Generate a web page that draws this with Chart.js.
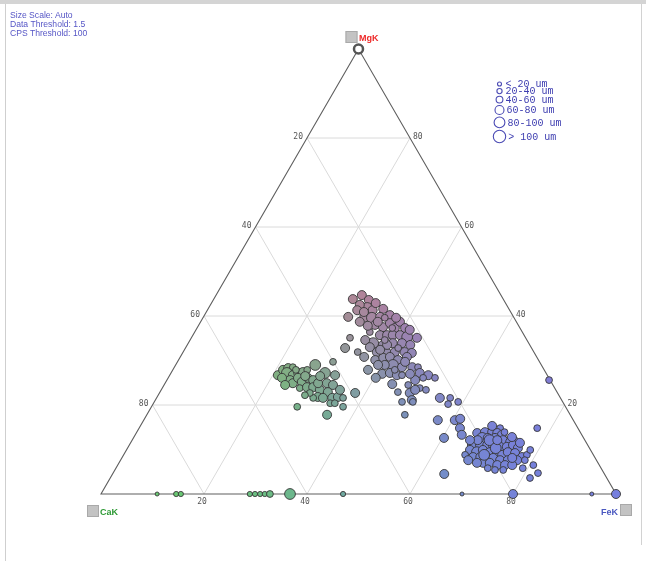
<!DOCTYPE html>
<html>
<head>
<meta charset="utf-8">
<script src="https://cdn.jsdelivr.net/npm/chart.js@4.4.1/dist/chart.umd.min.js"></script>
<style>
  html, body { margin: 0; padding: 0; background: #fff; }
  #wrap { position: relative; width: 646px; height: 561px; overflow: hidden; }
  #topbar { position: absolute; left: 0; top: 0; width: 646px; height: 4px; background: #d4d4d4; }
  #lline { position: absolute; left: 5px; top: 4px; width: 1px; height: 557px; background: #cfcfcf; }
  #rline { position: absolute; left: 641px; top: 4px; width: 1px; height: 541px; background: #d2d2d2; }
  #info { position: absolute; left: 10px; top: 11px; font: 8.6px "Liberation Sans", Arial, sans-serif;
          color: #5656c6; line-height: 9px; white-space: nowrap; }
  canvas { position: absolute; left: 0; top: 0; }
</style>
</head>
<body>
<div id="wrap">
  <canvas id="c" width="646" height="561"></canvas>
  <div id="topbar"></div><div id="lline"></div><div id="rline"></div>
  <div id="info">Size Scale: Auto<br>Data Threshold: 1.5<br>CPS Threshold: 100</div>
</div>
<script>
const SQ = Math.sqrt(3) / 2;

// Particle compositions in percent; CaK is the remainder (100 - MgK - FeK)
const mgK = [
  // Mg-rich group
  43.8,44.7,43.6,39.8,41.8,41.3,41.6,40.2,39.8,39.6,39.8,38.0,37.5,38.4,37.3,38.7,37.3,36.4,35.7,35.7,
  35.7,35.7,35.3,35.1,35.1,33.9,33.5,33.9,33.9,33.5,32.8,31.9,31.9,31.7,31.9,31.9,31.7,30.1,30.6,30.8,
  30.1,30.8,29.0,29.0,28.5,28.5,28.5,27.9,27.0,27.2,26.7,26.7,27.2,26.7,25.6,26.1,24.7,24.5,23.8,22.7,
  22.7,21.1,20.7,20.7,21.6,21.6,20.2,20.7,17.8,16.6,16.6,16.9,14.8,13.3,12.6,42.5,38.7,38.7,37.8,33.5,
  34.6,34.6,29.0,30.8,23.4,41.3,42.9,39.6,39.6,33.0,32.8,32.4,29.7,27.9,26.1,27.0,26.1,23.4,22.9,40.9,
  37.3,36.9,
  // Ca-rich group
  26.7,27.9,28.3,28.5,27.2,26.7,27.2,27.4,27.9,29.0,25.6,24.9,26.1,25.2,26.1,25.6,23.8,24.0,24.0,27.2,
  26.7,23.4,24.9,22.9,24.5,21.8,21.6,21.6,21.6,21.8,21.6,20.4,20.4,19.6,19.6,17.8,29.7,26.1,26.5,24.9,
  27.9,22.7,24.5,26.5,23.4,22.2,
  // Fe-rich group
  14.8,14.8,13.7,13.9,13.9,13.7,13.3,12.6,12.6,12.6,12.1,11.7,11.7,11.0,11.0,11.0,11.0,10.6,10.6,11.0,
  10.3,9.9,9.4,9.9,9.4,9.4,8.8,9.4,9.2,8.3,8.8,8.3,8.3,8.1,8.1,7.6,7.6,7.6,8.8,7.0,
  7.0,6.5,6.5,6.5,5.8,5.8,7.6,6.5,4.7,3.6,4.5,25.6,12.1,12.1,10.3,8.8,13.9,12.1,15.3,12.8,
  11.5,7.6,7.0,5.4,5.4,8.1,12.1,9.9,
  // Mg-free particles along the CaK-FeK side
  0,0,0,0,0,0,0,0,0,0,0,0,0,0
];
const feK = [
  27.0,28.3,30.2,28.1,30.8,32.1,34.0,36.0,31.4,32.8,34.3,34.2,36.0,36.9,38.4,38.7,40.4,34.0,36.3,37.7,
  38.8,40.2,41.8,43.8,30.8,35.9,38.0,39.7,41.5,43.3,31.0,33.9,37.6,39.7,41.1,43.0,44.5,38.2,39.5,40.7,
  42.6,44.0,42.2,40.6,44.2,46.2,47.3,37.9,41.1,42.5,44.1,45.1,48.3,50.2,48.2,49.5,44.2,47.4,50.0,38.0,
  48.6,49.8,48.1,50.2,55.0,57.0,57.3,59.0,50.1,57.1,60.4,61.3,62.3,63.4,60.3,29.0,34.4,30.9,32.9,38.8,
  34.0,37.8,39.3,35.7,51.4,29.1,31.9,35.3,37.5,35.7,41.3,38.0,44.2,43.1,40.3,46.5,51.8,49.3,46.2,30.6,
  37.9,41.5,
  21.0,21.4,22.2,23.0,22.5,23.9,24.7,25.5,26.1,27.1,23.9,24.8,25.2,26.4,27.1,28.4,26.7,28.0,29.2,29.9,
  32.1,30.8,31.4,32.6,32.8,31.2,30.4,32.3,34.1,35.1,36.2,34.3,35.2,28.3,37.2,35.0,30.2,22.1,26.4,29.7,
  23.9,29.2,23.5,29.3,34.7,28.5,
  70.1,77.3,66.2,67.6,69.0,70.1,71.2,67.7,68.8,70.2,72.0,73.6,74.6,66.7,68.1,69.5,70.6,72.2,73.5,74.5,
  75.8,66.7,68.3,69.2,70.8,72.2,73.5,74.3,75.8,77.6,66.3,68.1,69.5,71.0,72.1,73.7,75.2,77.0,78.3,70.7,
  72.0,73.7,75.2,76.6,72.2,79.0,78.5,80.7,82.5,81.5,64.4,74.2,69.4,67.1,71.5,70.0,71.4,65.6,68.3,73.4,
  75.6,67.5,69.5,73.8,75.4,75.8,70.9,78.4,
  10.9,14.6,15.5,28.9,29.9,30.9,31.8,32.8,36.7,47.0,70.1,80.0,95.3,100
];
// Particle size class: 1 <20um, 2 20-40um, 3 40-60um, 4 60-80um, 5 80-100um, 6 >100um
const sizeClass = [
  4,4,4,4,5,4,4,4,5,5,4,4,4,4,4,4,4,3,4,4,
  4,4,5,4,3,5,4,4,4,4,4,3,4,4,4,4,4,4,4,4,
  4,4,5,4,4,4,3,4,4,4,4,3,4,4,4,3,4,3,3,4,
  4,4,3,3,4,3,3,3,3,4,4,4,4,4,4,4,4,4,4,4,
  4,3,4,4,3,4,4,3,4,4,3,4,4,3,4,4,3,4,3,4,
  3,4,
  4,4,4,3,5,4,4,4,3,5,4,4,4,4,4,4,3,4,4,5,
  4,4,4,4,4,4,3,4,4,4,3,3,3,3,3,4,3,4,4,4,
  3,3,4,4,4,3,
  3,3,4,4,4,4,4,5,4,4,4,4,4,5,4,4,4,4,4,4,
  4,4,5,4,4,4,4,4,4,4,3,4,4,4,4,4,4,4,3,4,
  4,4,4,4,3,3,3,3,3,3,4,3,5,4,5,5,3,4,4,4,
  4,4,4,3,3,4,4,3,
  1,2,2,2,2,2,2,3,5,2,1,4,1,4
];
// Pure MgK particle at the apex
const apexMgK = [100];
const apexFeK = [0];

const sizeLabels = ['< 20 um', '20-40 um', '40-60 um', '60-80 um', '80-100 um', '> 100 um'];
const gridSteps = [20, 40, 60, 80];
const cornerNames = ['MgK', 'CaK', 'FeK'];

const sizeRadius = [2, 2.6, 3.4, 4.5, 5.4, 6.2];

// ternary -> cartesian (x along CaK-FeK base, y up towards MgK)
const toXY = (mg, fe) => ({ x: fe + mg / 2, y: mg * SQ });

const particles = mgK.map((m, i) => toXY(m, feK[i]));
const apexPts = apexMgK.map((m, i) => toXY(m, apexFeK[i]));

// colour blended from the three corner colours, weighted by squared fractions
const cMg = [225, 108, 142], cCa = [105, 202, 112], cFe = [118, 127, 222];
function compColour(mg, fe) {
  const ca = Math.max(0, 100 - mg - fe);
  const wm = mg * mg, wf = fe * fe, wc = ca * ca, s = wm + wf + wc;
  const ch = k => Math.round((wm * cMg[k] + wf * cFe[k] + wc * cCa[k]) / s);
  return `rgb(${ch(0)},${ch(1)},${ch(2)})`;
}

const ternaryFrame = {
  id: 'ternaryFrame',
  beforeDatasetsDraw(chart) {
    const { ctx, scales: { x, y } } = chart;
    const P = (mg, fe) => { const q = toXY(mg, fe); return [x.getPixelForValue(q.x), y.getPixelForValue(q.y)]; };
    const seg = (a, b) => { ctx.beginPath(); ctx.moveTo(a[0], a[1]); ctx.lineTo(b[0], b[1]); ctx.stroke(); };
    ctx.save();
    // grid
    ctx.strokeStyle = '#dadada';
    ctx.lineWidth = 1;
    gridSteps.forEach(k => {
      seg(P(k, 0), P(k, 100 - k));          // MgK = k
      seg(P(0, k), P(100 - k, k));          // FeK = k
      seg(P(0, 100 - k), P(100 - k, 0));    // CaK = k
    });
    // triangle outline
    ctx.strokeStyle = '#5e5e5e';
    ctx.lineWidth = 1.1;
    ctx.beginPath();
    const A = P(100, 0), B = P(0, 0), C = P(0, 100);
    ctx.moveTo(A[0], A[1]); ctx.lineTo(B[0], B[1]); ctx.lineTo(C[0], C[1]); ctx.closePath();
    ctx.stroke();
    // tick labels
    ctx.fillStyle = '#555';
    ctx.font = '8px "DejaVu Sans Mono", monospace';
    ctx.textBaseline = 'alphabetic';
    gridSteps.forEach(k => {
      let p = P(100 - k, 0);               // CaK along left side
      ctx.textAlign = 'right'; ctx.fillText(String(k), p[0] - 4, p[1] + 0.5);
      p = P(k, 100 - k);                   // MgK along right side
      ctx.textAlign = 'left'; ctx.fillText(String(k), p[0] + 3, p[1] + 0.5);
      p = P(0, k);                         // FeK along base
      ctx.textAlign = 'center'; ctx.fillText(String(k), p[0] - 2, p[1] + 9.5);
    });
    ctx.restore();
  },
  afterDatasetsDraw(chart) {
    const { ctx, scales: { x, y } } = chart;
    const P = (mg, fe) => { const q = toXY(mg, fe); return [x.getPixelForValue(q.x), y.getPixelForValue(q.y)]; };
    ctx.save();
    const box = (bx, by) => {
      ctx.fillStyle = '#c3c3c3'; ctx.fillRect(bx, by, 12, 12);
      ctx.strokeStyle = '#a9a9a9'; ctx.lineWidth = 1; ctx.strokeRect(bx + 0.5, by + 0.5, 11, 11);
    };
    ctx.font = 'bold 9px "Liberation Sans", Arial, sans-serif';
    ctx.textBaseline = 'alphabetic';
    const A = P(100, 0), B = P(0, 0), C = P(0, 100);
    box(A[0] - 13, A[1] - 18);
    ctx.fillStyle = '#ee2a2a'; ctx.textAlign = 'left';
    ctx.fillText(cornerNames[0], A[0] + 0.5, A[1] - 8.5);
    box(B[0] - 14, B[1] + 11);
    ctx.fillStyle = '#2e9a35'; ctx.textAlign = 'left';
    ctx.fillText(cornerNames[1], B[0] - 1, B[1] + 21);
    box(C[0] + 4, C[1] + 10);
    ctx.fillStyle = '#4a58c0'; ctx.textAlign = 'right';
    ctx.fillText(cornerNames[2], C[0] + 2, C[1] + 20.5);

    // size legend
    ctx.font = '10px "Liberation Mono", "Courier New", monospace';
    ctx.textAlign = 'left';
    ctx.textBaseline = 'middle';
    const lx = chart.chartArea.right - 116.5;
    let ly = chart.chartArea.top + 35, prevR = 0;
    sizeLabels.forEach((lab, i) => {
      const r = sizeRadius[i];
      if (i > 0) ly += prevR + r + 2.5;
      ctx.beginPath(); ctx.arc(lx, ly, r, 0, Math.PI * 2);
      ctx.fillStyle = '#fff'; ctx.fill();
      ctx.strokeStyle = '#4a4ab4'; ctx.lineWidth = 1.1; ctx.stroke();
      ctx.fillStyle = '#3d3db0';
      ctx.fillText(lab, lx + Math.max(r, 3.5) + 2.5, ly + 0.5);
      prevR = r;
    });
    ctx.restore();
  }
};

new Chart(document.getElementById('c'), {
  type: 'scatter',
  data: {
    datasets: [
      {
        label: 'particles',
        data: particles,
        clip: false,
        pointRadius: c => sizeRadius[sizeClass[c.dataIndex] - 1],
        pointBackgroundColor: c => compColour(mgK[c.dataIndex], feK[c.dataIndex]),
        pointBorderColor: 'rgba(55,55,55,0.9)',
        pointBorderWidth: 1
      },
      {
        label: 'apex',
        data: apexPts,
        clip: false,
        pointRadius: 4.5,
        pointBackgroundColor: '#ffffff',
        pointBorderColor: '#555',
        pointBorderWidth: 2.5
      }
    ]
  },
  options: {
    responsive: false,
    animation: false,
    events: [],
    layout: { padding: { left: 101, right: 30, top: 49, bottom: 67 } },
    scales: {
      x: { type: 'linear', min: 0, max: 100, display: false },
      y: { type: 'linear', min: 0, max: 100 * SQ, display: false }
    },
    plugins: { legend: { display: false }, tooltip: { enabled: false } }
  },
  plugins: [ternaryFrame]
});
</script>
</body>
</html>
